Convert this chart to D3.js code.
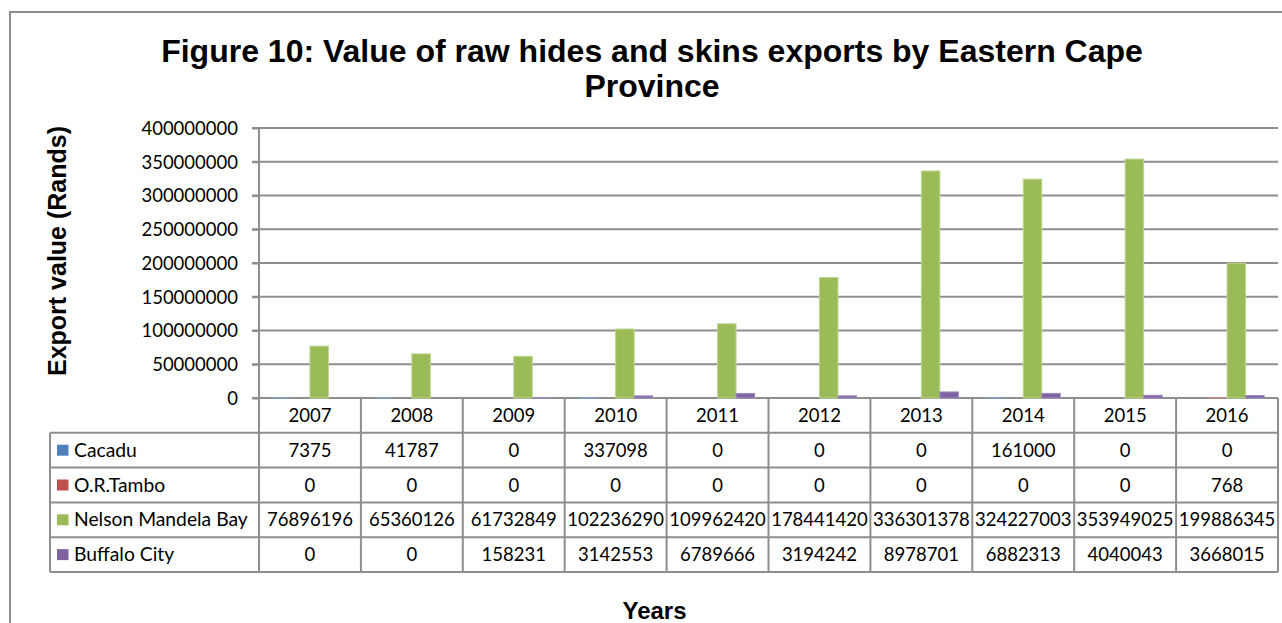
<!DOCTYPE html>
<html>
<head>
<meta charset="utf-8">
<script src="https://cdn.jsdelivr.net/npm/d3@7"></script>
<style>
  html, body { margin: 0; padding: 0; background: #fff; }
  svg { display: block; }
</style>
</head>
<body>
<svg id="chart" width="1282" height="623"></svg>
<script>
// Export values (Rands) per district, 2007–2016
const years = ["2007", "2008", "2009", "2010", "2011", "2012", "2013", "2014", "2015", "2016"];
const seriesNames = ["Cacadu", "O.R.Tambo", "Nelson Mandela Bay", "Buffalo City"];
const cacadu = [7375, 41787, 0, 337098, 0, 0, 0, 161000, 0, 0];
const orTambo = [0, 0, 0, 0, 0, 0, 0, 0, 0, 768];
const nelsonMandelaBay = [76896196, 65360126, 61732849, 102236290, 109962420, 178441420, 336301378, 324227003, 353949025, 199886345];
const buffaloCity = [0, 0, 158231, 3142553, 6789666, 3194242, 8978701, 6882313, 4040043, 3668015];
const yTicks = [0, 50000000, 100000000, 150000000, 200000000, 250000000, 300000000, 350000000, 400000000];

const seriesValues = [cacadu, orTambo, nelsonMandelaBay, buffaloCity];
const colors = ["#4F81BD", "#C0504D", "#9BBB59", "#8064A2"];
const edgeColors = ["#7ea3d3", "#d98583", "#bdd690", "#a08cbf"];

const svg = d3.select("#chart");
const gridColor = "#8e8e8e";
const numFont = "Lato, 'Open Sans', sans-serif";
const boldFont = "'Liberation Sans', Arial, sans-serif";

// Frame
svg.append("rect")
  .attr("x", 10).attr("y", 12).attr("width", 1400).attr("height", 700)
  .attr("fill", "none").attr("stroke", gridColor).attr("stroke-width", 2);

// Title
const title = svg.append("text")
  .attr("text-anchor", "middle")
  .attr("font-family", boldFont).attr("font-weight", "bold")
  .attr("font-size", 32).attr("fill", "#000");
title.append("tspan").attr("x", 652).attr("y", 62)
  .text("Figure 10: Value of raw hides and skins exports by Eastern Cape");
title.append("tspan").attr("x", 652).attr("y", 97).text("Province");

// Plot geometry
const plotLeft = 259, plotRight = 1278, plotTop = 128, plotBottom = 398;
const x = d3.scaleBand().domain(years).range([plotLeft, plotRight]).paddingInner(0).paddingOuter(0);
const x1 = d3.scaleBand().domain(seriesNames).range([0, x.bandwidth()]).paddingInner(0).paddingOuter(0.75);
const y = d3.scaleLinear().domain([0, 400000000]).range([plotBottom, plotTop]);

// Gridlines
svg.append("g").selectAll("line").data(yTicks).join("line")
  .attr("x1", plotLeft - 7).attr("x2", plotRight)
  .attr("y1", d => y(d)).attr("y2", d => y(d))
  .attr("stroke", gridColor).attr("stroke-width", 2);

// Y axis (labels + vertical line)
const yAxis = d3.axisLeft(y).tickValues(yTicks).tickSize(7).tickPadding(14)
  .tickFormat(d => String(d));
const yg = svg.append("g").attr("transform", `translate(${plotLeft},0)`).call(yAxis);
yg.select(".domain").remove();
yg.selectAll(".tick line").attr("stroke", gridColor).attr("stroke-width", 2);
yg.selectAll(".tick text")
  .attr("font-family", numFont).attr("font-size", 18.5).attr("fill", "#000")
  .attr("dy", "0.35em");
svg.append("line").attr("x1", plotLeft).attr("x2", plotLeft).attr("y1", plotTop).attr("y2", plotBottom)
  .attr("stroke", gridColor).attr("stroke-width", 2);

// Bars
const groups = svg.append("g").selectAll("g").data(years).join("g")
  .attr("transform", d => `translate(${x(d)},0)`);
groups.selectAll("rect")
  .data((yr, i) => seriesNames.map((s, k) => ({ s, k, v: seriesValues[k][i] })))
  .join("rect")
  .filter(d => d.v > 0)
  .attr("x", d => x1(d.s))
  .attr("width", x1.bandwidth())
  .attr("y", d => y(d.v))
  .attr("height", d => Math.max(0, plotBottom - y(d.v)))
  .attr("fill", d => colors[d.k])
  .attr("stroke", d => edgeColors[d.k]).attr("stroke-width", 1);

// Data table
const rowH = 34.8;
const headerTop = plotBottom, headerBottom = plotBottom + rowH;
const tableLeft = 50;
const tableBottom = headerBottom + rowH * seriesNames.length;
const tg = svg.append("g");

// horizontal rules
const hRows = d3.range(seriesNames.length + 1).map(i => headerBottom + i * rowH);
tg.selectAll("line.h").data(hRows).join("line").attr("class", "h")
  .attr("x1", tableLeft).attr("x2", plotRight)
  .attr("y1", d => d).attr("y2", d => d)
  .attr("stroke", gridColor).attr("stroke-width", 2);
// vertical rules between years
const vCols = years.map(yr => x(yr)).concat([plotRight]);
tg.selectAll("line.v").data(vCols).join("line").attr("class", "v")
  .attr("x1", d => d).attr("x2", d => d)
  .attr("y1", headerTop).attr("y2", tableBottom)
  .attr("stroke", gridColor).attr("stroke-width", 2);
tg.append("line").attr("x1", tableLeft).attr("x2", tableLeft)
  .attr("y1", headerBottom).attr("y2", tableBottom)
  .attr("stroke", gridColor).attr("stroke-width", 2);

// header years
tg.selectAll("text.yr").data(years).join("text").attr("class", "yr")
  .attr("x", d => x(d) + x.bandwidth() / 2)
  .attr("y", headerTop + rowH / 2 + 6.5)
  .attr("text-anchor", "middle")
  .attr("font-family", numFont).attr("font-size", 18.5).attr("fill", "#000")
  .text(d => d);

// series rows
seriesNames.forEach((name, k) => {
  const cy = headerBottom + k * rowH + rowH / 2;
  tg.append("rect").attr("x", 57).attr("y", cy - 5.5).attr("width", 11.5).attr("height", 11)
    .attr("fill", colors[k]);
  tg.append("text").attr("x", 74).attr("y", cy + 6.5)
    .attr("font-family", numFont).attr("font-size", 19.3).attr("fill", "#000")
    .text(name);
  tg.selectAll(null).data(seriesValues[k]).join("text")
    .attr("x", (d, i) => x(years[i]) + x.bandwidth() / 2)
    .attr("y", cy + 6.5)
    .attr("text-anchor", "middle")
    .attr("font-family", numFont).attr("font-size", 18.5).attr("fill", "#000")
    .text(d => String(d));
});

// Axis titles
svg.append("text")
  .attr("transform", "translate(66,251) rotate(-90)")
  .attr("text-anchor", "middle")
  .attr("font-family", boldFont).attr("font-weight", "bold")
  .attr("font-size", 25).attr("fill", "#000")
  .text("Export value (Rands)");
svg.append("text")
  .attr("x", 654.5).attr("y", 619)
  .attr("text-anchor", "middle")
  .attr("font-family", boldFont).attr("font-weight", "bold")
  .attr("font-size", 24).attr("fill", "#000")
  .text("Years");
</script>
</body>
</html>
